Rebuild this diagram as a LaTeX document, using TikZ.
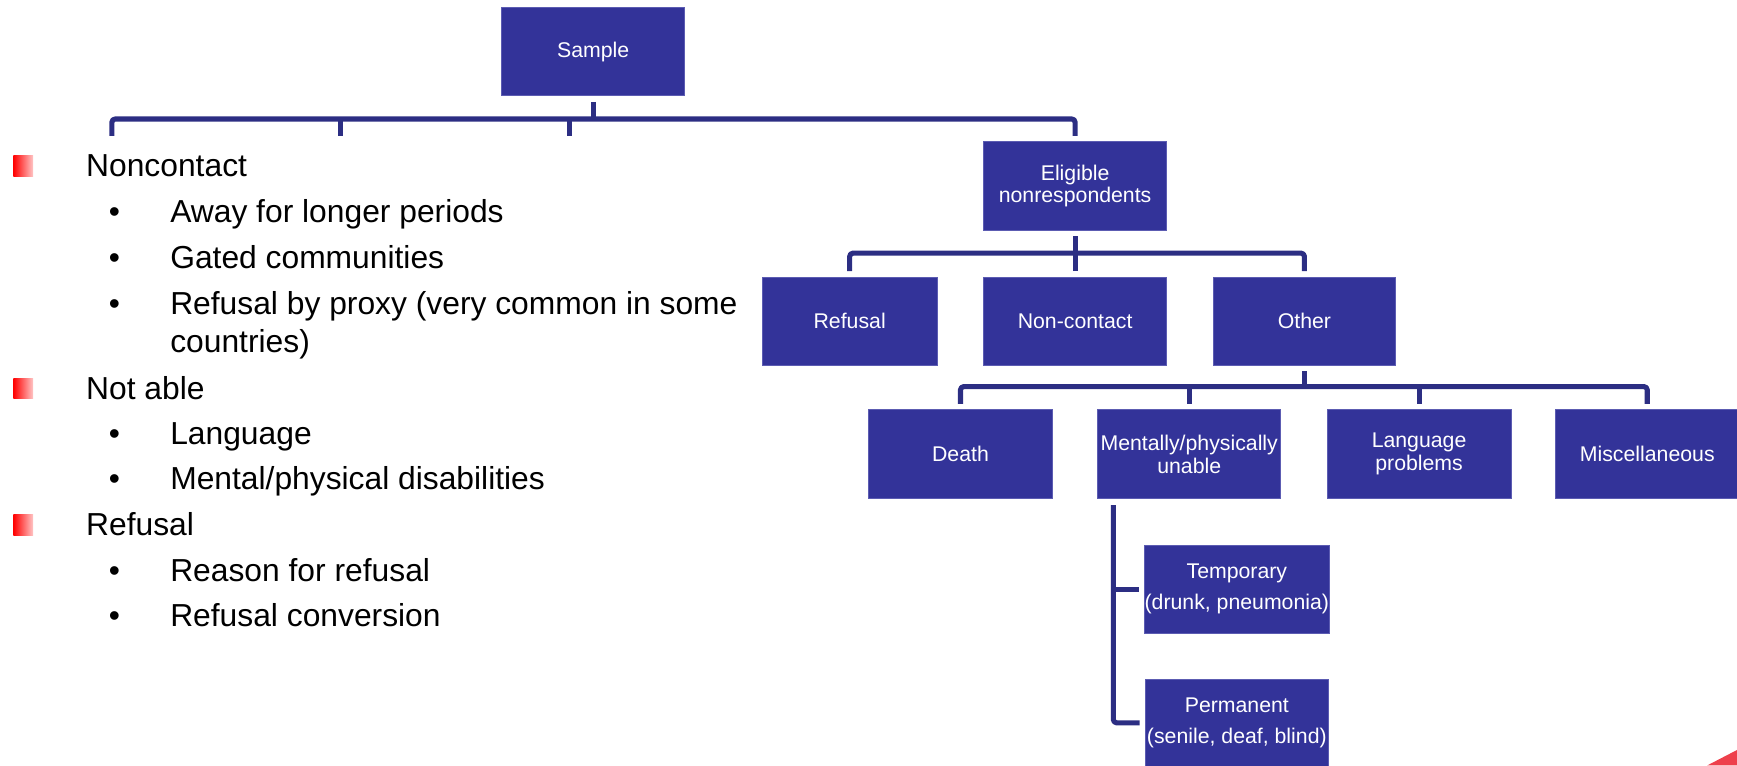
\documentclass[tikz,border=0pt]{standalone}
\usepackage{fontspec}
\setmainfont{Liberation Sans}
\definecolor{boxfill}{RGB}{51,51,153}
\definecolor{boxedge}{RGB}{92,92,178}
\definecolor{linecol}{RGB}{44,46,131}
\definecolor{cornerred}{RGB}{238,64,76}
\begin{document}
\begin{tikzpicture}[x=1pt,y=-1pt,
  box/.style={fill=boxfill,draw=boxedge,line width=0.7pt,text=white,inner sep=0pt,
    minimum width=165pt,minimum height=80pt,align=center,
    font=\fontsize{19.2}{20.5}\selectfont},
  conn/.style={draw=linecol,line width=4.6pt,line join=round},
  lvlone/.style={anchor=base west,inner sep=0pt,font=\fontsize{28.7}{34}\selectfont},
  dotb/.style={anchor=base west,inner sep=0pt,font=\fontsize{28.7}{34}\selectfont},
  redsq/.style={left color=red,right color=red!22,draw=none}]
\useasboundingbox (0,0) rectangle (1568,690.6);

% ---------- boxes ----------
\node[box] (sample) at (535.5,46.5) {Sample};
\node[box] (elig) at (970.5,168) {Eligible\\nonrespondents};
\node[box,minimum width=158pt] (refusal) at (767,290) {Refusal};
\node[box] (noncontact) at (970.5,290) {Non-contact};
\node[box] (other) at (1177.5,290) {Other};
\node[box,minimum width=166pt] (death) at (867,410) {Death};
\node[box] (mental) at (1073.5,410) {Mentally/physically\\unable};
\node[box,minimum width=166pt] (language) at (1281,410) {Language\\problems};
\node[box,minimum width=166pt] (misc) at (1487,410) {Miscellaneous};
\node[box] (temp) at (1116.5,532) {Temporary\\[7.5pt](drunk, pneumonia)};
\node[box,minimum height=79pt] (perm) at (1116.5,652.5) {Permanent\\[7.5pt](senile, deaf, blind)};

% ---------- bus coordinates ----------
\coordinate (bus1) at (0,107.4);
\coordinate (bus2) at (0,228.5);
\coordinate (bus3) at (0,349);
\coordinate (t1) at (101,122.7);
\coordinate (t2) at (307,122.7);
\coordinate (t3) at (514,122.7);
\coordinate (vtop) at (1005,456);

% ---------- connectors ----------
\draw[conn] ([yshift=-5pt]sample.south) -- (sample.south |- bus1);
\draw[conn,rounded corners=3pt] (t1) |- (elig.north |- bus1) -- ([yshift=5pt]elig.north);
\draw[conn] (t2) -- (t2 |- bus1);
\draw[conn] (t3) -- (t3 |- bus1);

\draw[conn] ([yshift=-5pt]elig.south) -- (elig.south |- bus2);
\draw[conn,rounded corners=3pt] ([yshift=5pt]refusal.north) |- (other.north |- bus2) -- ([yshift=5pt]other.north);
\draw[conn] ([yshift=5pt]noncontact.north) -- (noncontact.north |- bus2);

\draw[conn] ([yshift=-5pt]other.south) -- (other.south |- bus3);
\draw[conn,rounded corners=3pt] ([yshift=5pt]death.north) |- (misc.north |- bus3) -- ([yshift=5pt]misc.north);
\draw[conn] ([yshift=5pt]mental.north) -- (mental.north |- bus3);
\draw[conn] ([yshift=5pt]language.north) -- (language.north |- bus3);

\draw[conn,rounded corners=3pt] (vtop) |- ([xshift=-5pt]perm.west);
\draw[conn] (vtop |- temp.west) -- ([xshift=-5pt]temp.west);

% ---------- left text ----------
\shade[redsq] (12,140.5) rectangle (30,159);
\node[lvlone] (nc) at (77.6,159.5) {Noncontact};
\node[dotb] (b1) at (98,200.8) {•};
\node[lvlone] (s1) at (153.5,200.8) {Away for longer periods};
\node[dotb] (b2) at (98,242) {•};
\node[lvlone] (s2) at (153.5,242) {Gated communities};
\node[dotb] (b3) at (98,283.5) {•};
\node[lvlone] (s3) at (153.5,283.5) {Refusal by proxy (very common in some};
\node[lvlone] (s3b) at (153.5,317.8) {countries)};

\shade[redsq] (12,341.5) rectangle (30,360);
\node[lvlone] (na) at (77.6,360.5) {Not able};
\node[dotb] (b4) at (98,401) {•};
\node[lvlone] (s4) at (153.5,401) {Language};
\node[dotb] (b5) at (98,442) {•};
\node[lvlone] (s5) at (153.5,442) {Mental/physical disabilities};

\shade[redsq] (12,464.5) rectangle (30,483);
\node[lvlone] (rf) at (77.6,483.5) {Refusal};
\node[dotb] (b6) at (98,524.5) {•};
\node[lvlone] (s6) at (153.5,524.5) {Reason for refusal};
\node[dotb] (b7) at (98,565.5) {•};
\node[lvlone] (s7) at (153.5,565.5) {Refusal conversion};

% ---------- corner decoration ----------
\fill[cornerred] (1541,691) -- (1568,677) -- (1569,691) -- cycle;
\end{tikzpicture}
\end{document}
